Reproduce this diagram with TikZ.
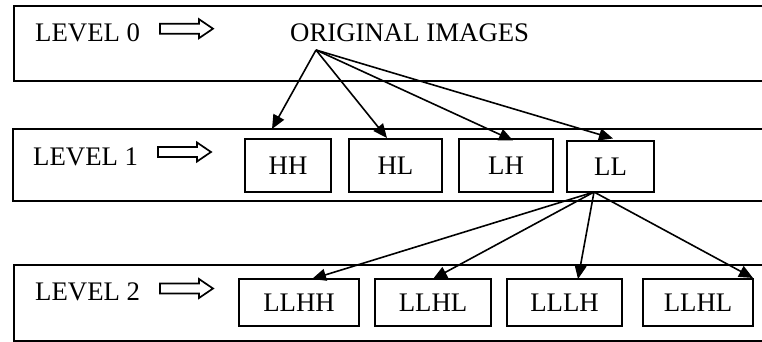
\documentclass[tikz,border=0pt]{standalone}
\usepackage{fontspec}
\setmainfont{Liberation Serif}
\usetikzlibrary{arrows.meta}
\begin{document}
\begin{tikzpicture}[x=1pt,y=-1pt,
  txt/.style={font=\fontsize{26.8}{31}\selectfont, inner sep=0pt},
  lvl/.style={txt, anchor=base west},
  band/.style={line width=2.2pt},
  cell/.style={draw, line width=1.8pt, inner sep=0pt, font=\fontsize{26.8}{31}\selectfont},
  link/.style={line width=1.6pt, -{Triangle[length=14pt,width=12pt]}},
  hollow/.pic={\draw[line width=1.7pt] (0,-5) -- (39,-5) -- (39,-9.5) -- (53,0) -- (39,9.5) -- (39,5) -- (0,5) -- cycle;}]
\useasboundingbox (0,0) rectangle (762,342);
% level bands (open on the right)
\draw[band] (763,6) -- (14,6) -- (14,81) -- (763,81);
\draw[band] (763,129) -- (13,129) -- (13,201) -- (763,201);
\draw[band] (763,265) -- (14,265) -- (14,341) -- (763,341);
% level labels
\node[lvl] (l0) at (35,42) {LEVEL 0};
\node[lvl] (l1) at (33,165) {LEVEL 1};
\node[lvl] (l2) at (35,300) {LEVEL 2};
\pic at (160,28.7) {hollow};
\pic at (158,152) {hollow};
\pic at (160,288.5) {hollow};
\node[lvl] (orig) at (290,42) {ORIGINAL IMAGES};
% level 1 cells
\node[cell, minimum width=86pt, minimum height=53pt] (hh) at (288,165.5) {HH};
\node[cell, minimum width=93pt, minimum height=53pt] (hl) at (395.5,165.5) {HL};
\node[cell, minimum width=94pt, minimum height=53pt] (lh) at (506,165.5) {LH};
\node[cell, minimum width=87pt, minimum height=51pt, text depth=-8pt] (ll) at (610.5,166.5) {LL};
% level 2 cells
\node[cell, minimum width=120pt, minimum height=47pt] (llhh) at (299,302.5) {LLHH};
\node[cell, minimum width=116pt, minimum height=47pt] (llhl) at (433,302.5) {LLHL};
\node[cell, minimum width=115pt, minimum height=47pt] (lllh) at (564.5,302.5) {LLLH};
\node[cell, minimum width=110pt, minimum height=47pt] (llhlb) at (698,302.5) {LLHL};
% connection points
\coordinate (src) at (316,50);
\coordinate (llb) at (594,192);
\coordinate (t1) at (272,129);
\coordinate (t2) at (387,138);
\coordinate (t3) at (513,140.5);
\coordinate (t4) at (613,138.5);
\coordinate (u1) at (312,279);
\coordinate (u2) at (433,279);
\coordinate (u3) at (578,279);
\coordinate (u4) at (753,278);
\draw[link] (src) -- (t1);
\draw[link] (src) -- (t2);
\draw[link] (src) -- (t3);
\draw[link] (src) -- (t4);
\draw[link] (llb) -- (u1);
\draw[link] (llb) -- (u2);
\draw[link] (llb) -- (u3);
\draw[link] (llb) -- (u4);
\end{tikzpicture}
\end{document}
